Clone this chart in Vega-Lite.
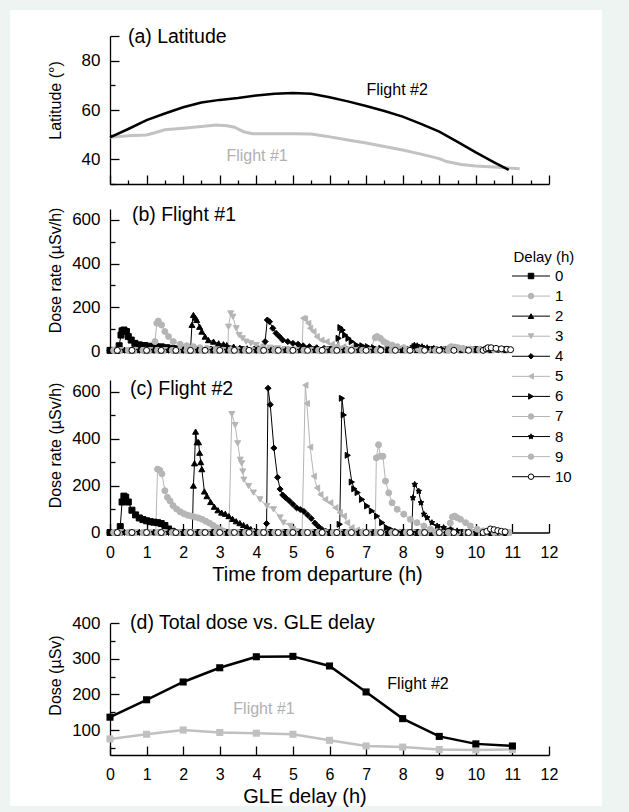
{
"$schema":"https://vega.github.io/schema/vega-lite/v6.json",
"width":592,"height":796,"autosize":"none",
"padding":{"left":10,"top":10,"right":27,"bottom":6},
"background":"#eef4f1",
"config":{
 "font":"Liberation Sans",
 "view":{"fill":"#ffffff","stroke":null},
 "axis":{"grid":false,"domainColor":"#000","domainWidth":1.3,"tickColor":"#000","tickWidth":1.3,"labelColor":"#000","titleColor":"#000","labelFont":"Liberation Sans","titleFont":"Liberation Sans","labelFontSize":16,"titleFontSize":20,"titleFontWeight":"normal","labelFlush":false,"labelOverlap":false,"labelBound":false},
 "axisY":{"labelFontSize":17,"titleFontSize":16}
},
"layer":[
{
 "data":{"values":"f,t,v\n2,0,48.9\n2,0.5,52.3\n2,1,55.9\n2,1.5,58.6\n2,2,61.1\n2,2.5,63\n2,3,64.1\n2,3.5,64.9\n2,4,65.9\n2,4.5,66.6\n2,5,66.9\n2,5.5,66.6\n2,6,65.2\n2,6.5,63.5\n2,7,61.6\n2,7.5,59.6\n2,8,57.3\n2,8.5,54.4\n2,9,51.2\n2,9.5,47.1\n2,10,42.8\n2,10.5,38.8\n2,10.9,35.7\n1,0,48.9\n1,0.5,49.6\n1,1,49.9\n1,1.2,50.7\n1,1.5,52\n1,2,52.6\n1,2.5,53.3\n1,2.9,53.9\n1,3.2,53.6\n1,3.4,53\n1,3.65,51.2\n1,3.9,50.4\n1,4.5,50.4\n1,5,50.4\n1,5.5,50.3\n1,5.9,49.4\n1,6.5,47.8\n1,7,46.6\n1,7.5,45.2\n1,8,43.8\n1,8.5,42.1\n1,9,40.3\n1,9.2,39.1\n1,9.6,37.9\n1,10,37.3\n1,10.5,36.9\n1,11.2,36.2","format":{"type":"csv","parse":{"f":"number","t":"number","v":"number"}}},
 "encoding":{
  "x":{"field":"t","type":"quantitative","scale":{"domain":[0,12],"range":[100,539],"nice":false,"zero":false},
   "axis":{"orient":"bottom","offset":-622,"values":[0,0.5,1,1.5,2,2.5,3,3.5,4,4.5,5,5.5,6,6.5,7,7.5,8,8.5,9,9.5,10,10.5,11,11.5,12],"labels":false,"title":null,"tickSize":{"condition":{"test":"datum.value % 1 === 0","value":-9},"value":-4}}},
  "y":{"field":"v","type":"quantitative","scale":{"domain":[30,90],"range":[174,26],"nice":false,"zero":false},
   "axis":{"orient":"left","offset":-100,"values":[30,40,50,60,70,80,90],"format":"d","labelExpr":"datum.value===40||datum.value===60||datum.value===80 ? datum.label : ''","tickSize":{"condition":{"test":"datum.value===40||datum.value===60||datum.value===80||datum.value===90","value":-9},"value":-5},"labelPadding":19,"title":"Latitude (°)","titleX":-47,"titleY":90}}
 },
 "layer":[
  {"transform":[{"filter":"datum.f===1"}],"mark":{"type":"line","stroke":"#c2c2c2","strokeWidth":3}},
  {"transform":[{"filter":"datum.f===2"}],"mark":{"type":"line","stroke":"#000000","strokeWidth":2.5}},
  {"data":{"values":[{"t":0.49,"v":89.6,"s":"(a) Latitude"}]},"mark":{"type":"text","align":"left","baseline":"middle","fontSize":19.5,"color":"#000000"},"encoding":{"text":{"field":"s"}}},
  {"data":{"values":[{"t":7.85,"v":68.2,"s":"Flight #2"}]},"mark":{"type":"text","align":"center","baseline":"middle","fontSize":16,"color":"#000000"},"encoding":{"text":{"field":"s"}}},
  {"data":{"values":[{"t":4.02,"v":41.5,"s":"Flight #1"}]},"mark":{"type":"text","align":"center","baseline":"middle","fontSize":16,"color":"#b0b0b0"},"encoding":{"text":{"field":"s"}}}
 ]
},
{
 "data":{"values":"d,t,v\n0,0,3\n0,0.2,3\n0,0.25,24\n0,0.3,73\n0,0.33,92\n0,0.38,96\n0,0.45,89\n0,0.5,66\n0,0.58,50\n0,0.68,35\n0,0.8,28\n0,0.95,25\n0,1.1,22\n0,1.25,20\n0,1.4,19\n0,1.55,15\n0,1.7,12\n0,1.85,10\n0,2,6\n0,2.4,6\n0,2.8,6\n0,3.2,6\n0,3.6,6\n0,4,6\n0,4.4,6\n0,4.8,6\n0,5.2,6\n0,5.6,6\n0,6,6\n0,6.4,6\n0,6.8,6\n0,7.2,6\n0,7.6,6\n0,8,6\n0,8.4,6\n0,8.8,6\n0,9.2,6\n0,9.6,6\n0,10,6\n0,10.4,6\n0,10.8,6\n1,0.1,3\n1,0.5,3\n1,0.9,3\n1,1.2,3\n1,1.23,43\n1,1.28,127\n1,1.32,137\n1,1.41,119\n1,1.5,89\n1,1.6,66\n1,1.73,43\n1,1.92,31\n1,2.1,24\n1,2.28,20\n1,2.46,15\n1,2.65,12\n1,2.85,9\n1,3.3,6\n1,3.7,6\n1,4.1,6\n1,4.5,6\n1,4.9,6\n1,5.3,6\n1,5.7,6\n1,6.1,6\n1,6.5,6\n1,6.9,6\n1,7.3,6\n1,7.7,6\n1,8.1,6\n1,8.5,6\n1,8.9,6\n1,9.3,6\n1,9.7,6\n1,10.1,6\n1,10.5,6\n1,10.9,6\n2,0.2,3\n2,0.6,3\n2,1,3\n2,1.4,3\n2,1.8,3\n2,2.2,3\n2,2.24,120\n2,2.28,165\n2,2.33,153\n2,2.37,142\n2,2.45,111\n2,2.51,89\n2,2.6,66\n2,2.69,50\n2,2.83,43\n2,2.97,35\n2,3.1,31\n2,3.19,27\n2,3.38,20\n2,3.55,15\n2,3.75,12\n2,3.95,9\n2,4.2,6\n2,4.6,6\n2,5,6\n2,5.4,6\n2,5.8,6\n2,6.2,6\n2,6.6,6\n2,7,6\n2,7.4,6\n2,7.8,6\n2,8.2,6\n2,8.6,6\n2,9,6\n2,9.4,6\n2,9.8,6\n2,10.2,6\n2,10.6,6\n3,0.3,3\n3,0.7,3\n3,1.1,3\n3,1.5,3\n3,1.9,3\n3,2.3,3\n3,2.7,3\n3,3.1,3\n3,3.22,3\n3,3.24,111\n3,3.3,172\n3,3.36,157\n3,3.45,104\n3,3.53,73\n3,3.62,58\n3,3.72,43\n3,3.85,35\n3,4,27\n3,4.2,20\n3,4.38,15\n3,4.58,12\n3,4.8,9\n3,5.1,6\n3,5.5,6\n3,5.9,6\n3,6.3,6\n3,6.7,6\n3,7.1,6\n3,7.5,6\n3,7.9,6\n3,8.3,6\n3,8.7,6\n3,9.1,6\n3,9.5,6\n3,9.9,6\n3,10.3,6\n3,10.7,6\n4,0,3\n4,0.4,3\n4,0.8,3\n4,1.2,3\n4,1.6,3\n4,2,3\n4,2.4,3\n4,2.8,3\n4,3.2,3\n4,3.6,3\n4,4,3\n4,4.2,3\n4,4.24,43\n4,4.3,142\n4,4.36,134\n4,4.45,104\n4,4.54,81\n4,4.63,66\n4,4.72,50\n4,4.86,43\n4,5,35\n4,5.14,31\n4,5.28,24\n4,5.45,20\n4,5.65,15\n4,5.85,12\n4,6.05,9\n4,6.4,6\n4,6.8,6\n4,7.2,6\n4,7.6,6\n4,8,6\n4,8.4,6\n4,8.8,6\n4,9.2,6\n4,9.6,6\n4,10,6\n4,10.4,6\n4,10.8,6\n5,0.1,3\n5,0.5,3\n5,0.9,3\n5,1.3,3\n5,1.7,3\n5,2.1,3\n5,2.5,3\n5,2.9,3\n5,3.3,3\n5,3.7,3\n5,4.1,3\n5,4.5,3\n5,4.9,3\n5,5.25,3\n5,5.28,150\n5,5.33,147\n5,5.42,127\n5,5.47,104\n5,5.56,89\n5,5.65,66\n5,5.78,50\n5,5.92,43\n5,6.06,31\n5,6.2,24\n5,6.38,20\n5,6.58,15\n5,6.78,12\n5,6.98,9\n5,7.3,6\n5,7.7,6\n5,8.1,6\n5,8.5,6\n5,8.9,6\n5,9.3,6\n5,9.7,6\n5,10.1,6\n5,10.5,6\n5,10.9,6\n6,0.2,3\n6,0.6,3\n6,1,3\n6,1.4,3\n6,1.8,3\n6,2.2,3\n6,2.6,3\n6,3,3\n6,3.4,3\n6,3.8,3\n6,4.2,3\n6,4.6,3\n6,5,3\n6,5.4,3\n6,5.8,3\n6,6.2,3\n6,6.25,58\n6,6.3,107\n6,6.36,96\n6,6.43,73\n6,6.52,58\n6,6.61,43\n6,6.75,27\n6,6.9,24\n6,7.05,20\n6,7.22,15\n6,7.42,12\n6,7.62,9\n6,7.8,6\n6,8.2,6\n6,8.6,6\n6,9,6\n6,9.4,6\n6,9.8,6\n6,10.2,6\n6,10.6,6\n7,0.3,3\n7,0.7,3\n7,1.1,3\n7,1.5,3\n7,1.9,3\n7,2.3,3\n7,2.7,3\n7,3.1,3\n7,3.5,3\n7,3.9,3\n7,4.3,3\n7,4.7,3\n7,5.1,3\n7,5.5,3\n7,5.9,3\n7,6.3,3\n7,6.7,3\n7,7.1,3\n7,7.25,61\n7,7.3,66\n7,7.39,58\n7,7.48,43\n7,7.57,35\n7,7.71,27\n7,7.85,20\n7,8.03,15\n7,8.23,12\n7,8.43,9\n7,8.7,6\n7,9.1,6\n7,9.5,6\n7,9.9,6\n7,10.3,6\n7,10.7,6\n8,0,3\n8,0.4,3\n8,0.8,3\n8,1.2,3\n8,1.6,3\n8,2,3\n8,2.4,3\n8,2.8,3\n8,3.2,3\n8,3.6,3\n8,4,3\n8,4.4,3\n8,4.8,3\n8,5.2,3\n8,5.6,3\n8,6,3\n8,6.4,3\n8,6.8,3\n8,7.2,3\n8,7.6,3\n8,8,3\n8,8.28,20\n8,8.32,27\n8,8.4,24\n8,8.53,20\n8,8.67,15\n8,8.85,12\n8,9.05,9\n8,9.2,6\n8,9.6,6\n8,10,6\n8,10.4,6\n8,10.8,6\n9,0.1,3\n9,0.5,3\n9,0.9,3\n9,1.3,3\n9,1.7,3\n9,2.1,3\n9,2.5,3\n9,2.9,3\n9,3.3,3\n9,3.7,3\n9,4.1,3\n9,4.5,3\n9,4.9,3\n9,5.3,3\n9,5.7,3\n9,6.1,3\n9,6.5,3\n9,6.9,3\n9,7.3,3\n9,7.7,3\n9,8.1,3\n9,8.5,3\n9,8.9,3\n9,9.25,3\n9,9.28,15\n9,9.33,20\n9,9.42,18\n9,9.52,15\n9,9.65,12\n9,9.85,9\n9,10.1,6\n9,10.5,6\n9,10.9,6\n10,0.2,3\n10,0.6,3\n10,1,3\n10,1.4,3\n10,1.8,3\n10,2.2,3\n10,2.6,3\n10,3,3\n10,3.4,3\n10,3.8,3\n10,4.2,3\n10,4.6,3\n10,5,3\n10,5.4,3\n10,5.8,3\n10,6.2,3\n10,6.6,3\n10,7,3\n10,7.4,3\n10,7.8,3\n10,8.2,3\n10,8.6,3\n10,9,3\n10,9.4,3\n10,9.8,3\n10,10.2,3\n10,10.28,10\n10,10.33,15\n10,10.42,15\n10,10.55,12\n10,10.7,10\n10,10.85,8\n10,10.95,6","format":{"type":"csv","parse":{"d":"number","t":"number","v":"number"}}},
 "encoding":{
  "x":{"field":"t","type":"quantitative","scale":{"domain":[0,12],"range":[100,539],"nice":false,"zero":false},"axis":null},
  "y":{"field":"v","type":"quantitative","scale":{"domain":[0,650],"range":[341,199],"nice":false,"zero":false},
   "axis":{"orient":"left","offset":-100,"values":[0,100,200,300,400,500,600],"format":"d","labelExpr":"datum.value % 200 === 0 ? datum.label : ''","tickSize":{"condition":{"test":"datum.value % 200 === 0","value":-9},"value":-5},"labelPadding":19,"title":"Dose rate (µSv/h)","titleX":-47,"titleY":260}}
 },
 "layer":[
  {"mark":{"type":"line","strokeWidth":1},"encoding":{"stroke":{"field":"d","type":"nominal","scale":{"domain":[0,1,2,3,4,5,6,7,8,9,10],"range":["#000000","#b5b5b5","#000000","#b5b5b5","#000000","#b5b5b5","#000000","#b5b5b5","#000000","#b5b5b5","#000000"]},"legend":null}}},
  {"mark":{"type":"point","filled":true,"size":36,"strokeWidth":1,"opacity":1},"encoding":{
    "shape":{"field":"d","type":"nominal","scale":{"domain":[0,1,2,3,4,5,6,7,8,9,10],"range":["square","circle","triangle-up","triangle-down","diamond","triangle-left","triangle-right","circle","M0,-1L0.29,-0.4L0.95,-0.31L0.48,0.15L0.59,0.81L0,0.5L-0.59,0.81L-0.48,0.15L-0.95,-0.31L-0.29,-0.4Z","circle","circle"]},"legend":null},
    "fill":{"field":"d","type":"nominal","scale":{"domain":[0,1,2,3,4,5,6,7,8,9,10],"range":["#000000","#b5b5b5","#000000","#b5b5b5","#000000","#b5b5b5","#000000","#b5b5b5","#000000","#b5b5b5","#ffffff"]},"legend":null},
    "stroke":{"field":"d","type":"nominal","legend":null}
  }},
  {"data":{"values":[{"t":0.6,"v":623,"s":"(b) Flight #1"}]},"mark":{"type":"text","align":"left","baseline":"middle","fontSize":19.5,"color":"#000000"},"encoding":{"text":{"field":"s"}}}
 ]
},
{
 "data":{"values":"d,t,v\n0,0,0\n0,0.2,0\n0,0.25,0\n0,0.28,25\n0,0.33,130\n0,0.38,155\n0,0.43,150\n0,0.5,130\n0,0.6,95\n0,0.7,75\n0,0.8,62\n0,0.9,55\n0,1,50\n0,1.1,46\n0,1.2,44\n0,1.3,42\n0,1.4,38\n0,1.5,30\n0,1.6,15\n0,1.7,5\n0,2,0\n0,2.4,0\n0,2.8,0\n0,3.2,0\n0,3.6,0\n0,4,0\n0,4.4,0\n0,4.8,0\n0,5.2,0\n0,5.6,0\n0,6,0\n0,6.4,0\n0,6.8,0\n0,7.2,0\n0,7.6,0\n0,8,0\n0,8.4,0\n0,8.8,0\n0,9.2,0\n0,9.6,0\n0,10,0\n0,10.4,0\n0,10.8,0\n1,0.1,0\n1,0.5,0\n1,0.9,0\n1,1.25,0\n1,1.3,270\n1,1.36,265\n1,1.42,250\n1,1.5,178\n1,1.57,150\n1,1.64,135\n1,1.72,115\n1,1.82,100\n1,1.92,88\n1,2.02,80\n1,2.12,74\n1,2.22,70\n1,2.32,66\n1,2.42,62\n1,2.52,56\n1,2.62,48\n1,2.72,40\n1,2.82,30\n1,2.92,20\n1,3.02,12\n1,3.12,5\n1,3.3,0\n1,3.7,0\n1,4.1,0\n1,4.5,0\n1,4.9,0\n1,5.3,0\n1,5.7,0\n1,6.1,0\n1,6.5,0\n1,6.9,0\n1,7.3,0\n1,7.7,0\n1,8.1,0\n1,8.5,0\n1,8.9,0\n1,9.3,0\n1,9.7,0\n1,10.1,0\n1,10.5,0\n1,10.9,0\n2,0.2,0\n2,0.6,0\n2,1,0\n2,1.4,0\n2,1.8,0\n2,2.2,0\n2,2.25,0\n2,2.28,200\n2,2.31,295\n2,2.34,430\n2,2.38,385\n2,2.42,385\n2,2.45,340\n2,2.48,300\n2,2.51,270\n2,2.58,175\n2,2.65,155\n2,2.75,130\n2,2.85,110\n2,2.95,95\n2,3.05,85\n2,3.15,80\n2,3.25,70\n2,3.35,58\n2,3.45,48\n2,3.55,40\n2,3.65,32\n2,3.75,25\n2,3.85,15\n2,3.95,8\n2,4.05,3\n2,4.2,0\n2,4.6,0\n2,5,0\n2,5.4,0\n2,5.8,0\n2,6.2,0\n2,6.6,0\n2,7,0\n2,7.4,0\n2,7.8,0\n2,8.2,0\n2,8.6,0\n2,9,0\n2,9.4,0\n2,9.8,0\n2,10.2,0\n2,10.6,0\n3,0.3,0\n3,0.7,0\n3,1.1,0\n3,1.5,0\n3,1.9,0\n3,2.3,0\n3,2.7,0\n3,3.1,0\n3,3.25,0\n3,3.33,505\n3,3.42,458\n3,3.49,380\n3,3.56,310\n3,3.6,295\n3,3.63,260\n3,3.66,225\n3,3.79,198\n3,3.92,170\n3,4.1,141\n3,4.29,113\n3,4.47,99\n3,4.65,64\n3,4.74,42\n3,4.93,28\n3,5,14\n3,5.1,5\n3,5.5,0\n3,5.9,0\n3,6.3,0\n3,6.7,0\n3,7.1,0\n3,7.5,0\n3,7.9,0\n3,8.3,0\n3,8.7,0\n3,9.1,0\n3,9.5,0\n3,9.9,0\n3,10.3,0\n3,10.7,0\n4,0,0\n4,0.4,0\n4,0.8,0\n4,1.2,0\n4,1.6,0\n4,2,0\n4,2.4,0\n4,2.8,0\n4,3.2,0\n4,3.6,0\n4,4,0\n4,4.25,0\n4,4.28,38\n4,4.32,615\n4,4.38,545\n4,4.48,360\n4,4.58,235\n4,4.65,185\n4,4.72,160\n4,4.8,148\n4,4.9,135\n4,5,120\n4,5.1,105\n4,5.2,98\n4,5.3,90\n4,5.4,75\n4,5.5,60\n4,5.6,40\n4,5.7,25\n4,5.8,12\n4,5.9,5\n4,6.4,0\n4,6.8,0\n4,7.2,0\n4,7.6,0\n4,8,0\n4,8.4,0\n4,8.8,0\n4,9.2,0\n4,9.6,0\n4,10,0\n4,10.4,0\n4,10.8,0\n5,0.1,0\n5,0.5,0\n5,0.9,0\n5,1.3,0\n5,1.7,0\n5,2.1,0\n5,2.5,0\n5,2.9,0\n5,3.3,0\n5,3.7,0\n5,4.1,0\n5,4.5,0\n5,4.9,0\n5,5.25,0\n5,5.34,628\n5,5.38,550\n5,5.47,364\n5,5.57,240\n5,5.66,190\n5,5.75,162\n5,5.88,141\n5,6.02,127\n5,6.16,106\n5,6.28,85\n5,6.39,70\n5,6.48,42\n5,6.6,21\n5,6.75,11\n5,6.85,4\n5,7.3,0\n5,7.7,0\n5,8.1,0\n5,8.5,0\n5,8.9,0\n5,9.3,0\n5,9.7,0\n5,10.1,0\n5,10.5,0\n5,10.9,0\n6,0.2,0\n6,0.6,0\n6,1,0\n6,1.4,0\n6,1.8,0\n6,2.2,0\n6,2.6,0\n6,3,0\n6,3.4,0\n6,3.8,0\n6,4.2,0\n6,4.6,0\n6,5,0\n6,5.4,0\n6,5.8,0\n6,6.2,0\n6,6.25,0\n6,6.28,35\n6,6.34,572\n6,6.39,501\n6,6.5,329\n6,6.61,215\n6,6.68,186\n6,6.77,170\n6,6.89,141\n6,7.03,113\n6,7.16,92\n6,7.3,70\n6,7.44,42\n6,7.57,21\n6,7.71,11\n6,7.85,4\n6,8.2,0\n6,8.6,0\n6,9,0\n6,9.4,0\n6,9.8,0\n6,10.2,0\n6,10.6,0\n7,0.3,0\n7,0.7,0\n7,1.1,0\n7,1.5,0\n7,1.9,0\n7,2.3,0\n7,2.7,0\n7,3.1,0\n7,3.5,0\n7,3.9,0\n7,4.3,0\n7,4.7,0\n7,5.1,0\n7,5.5,0\n7,5.9,0\n7,6.3,0\n7,6.7,0\n7,7.1,0\n7,7.25,0\n7,7.28,318\n7,7.34,374\n7,7.39,325\n7,7.46,325\n7,7.53,219\n7,7.62,169\n7,7.71,127\n7,7.85,99\n7,8.03,78\n7,8.21,56\n7,8.39,42\n7,8.58,28\n7,8.76,14\n7,8.94,7\n7,9.5,0\n7,9.9,0\n7,10.3,0\n7,10.7,0\n8,0,0\n8,0.4,0\n8,0.8,0\n8,1.2,0\n8,1.6,0\n8,2,0\n8,2.4,0\n8,2.8,0\n8,3.2,0\n8,3.6,0\n8,4,0\n8,4.4,0\n8,4.8,0\n8,5.2,0\n8,5.6,0\n8,6,0\n8,6.4,0\n8,6.8,0\n8,7.2,0\n8,7.6,0\n8,8,0\n8,8.25,0\n8,8.28,148\n8,8.33,205\n8,8.44,176\n8,8.5,127\n8,8.58,78\n8,8.67,63\n8,8.8,42\n8,8.94,28\n8,9.12,21\n8,9.31,14\n8,9.49,7\n8,10,0\n8,10.4,0\n8,10.8,0\n9,0.1,0\n9,0.5,0\n9,0.9,0\n9,1.3,0\n9,1.7,0\n9,2.1,0\n9,2.5,0\n9,2.9,0\n9,3.3,0\n9,3.7,0\n9,4.1,0\n9,4.5,0\n9,4.9,0\n9,5.3,0\n9,5.7,0\n9,6.1,0\n9,6.5,0\n9,6.9,0\n9,7.3,0\n9,7.7,0\n9,8.1,0\n9,8.5,0\n9,8.9,0\n9,9.25,0\n9,9.3,40\n9,9.36,66\n9,9.42,70\n9,9.49,63\n9,9.58,56\n9,9.72,42\n9,9.85,28\n9,10.04,14\n9,10.2,7\n9,10.5,0\n9,10.9,0\n10,0.2,0\n10,0.6,0\n10,1,0\n10,1.4,0\n10,1.8,0\n10,2.2,0\n10,2.6,0\n10,3,0\n10,3.4,0\n10,3.8,0\n10,4.2,0\n10,4.6,0\n10,5,0\n10,5.4,0\n10,5.8,0\n10,6.2,0\n10,6.6,0\n10,7,0\n10,7.4,0\n10,7.8,0\n10,8.2,0\n10,8.6,0\n10,9,0\n10,9.4,0\n10,9.8,0\n10,10.2,0\n10,10.3,5\n10,10.4,15\n10,10.5,12\n10,10.6,8\n10,10.7,5\n10,10.8,3","format":{"type":"csv","parse":{"d":"number","t":"number","v":"number"}}},
 "encoding":{
  "x":{"field":"t","type":"quantitative","scale":{"domain":[0,12],"range":[100,539],"nice":false,"zero":false},
   "axis":{"orient":"bottom","offset":-273.5,"values":[0,0.5,1,1.5,2,2.5,3,3.5,4,4.5,5,5.5,6,6.5,7,7.5,8,8.5,9,9.5,10,10.5,11,11.5,12],"format":"d","labelExpr":"datum.value % 1 === 0 ? datum.label : ''","labelBaseline":"middle","labelPadding":28.5,"tickSize":{"condition":{"test":"datum.value % 1 === 0","value":-9},"value":-4},"title":"Time from departure (h)","titleBaseline":"middle","titleX":307,"titleY":41.5}},
  "y":{"field":"v","type":"quantitative","scale":{"domain":[0,650],"range":[522.5,370],"nice":false,"zero":false},
   "axis":{"orient":"left","offset":-100,"values":[0,100,200,300,400,500,600],"format":"d","labelExpr":"datum.value % 200 === 0 ? datum.label : ''","tickSize":{"condition":{"test":"datum.value % 200 === 0","value":-9},"value":-5},"labelPadding":19,"title":"Dose rate (µSv/h)","titleX":-47,"titleY":435}}
 },
 "layer":[
  {"mark":{"type":"line","strokeWidth":1},"encoding":{"stroke":{"field":"d","type":"nominal","legend":null}}},
  {"mark":{"type":"point","filled":true,"size":36,"strokeWidth":1,"opacity":1},"encoding":{
    "shape":{"field":"d","type":"nominal","legend":null},
    "fill":{"field":"d","type":"nominal","legend":null},
    "stroke":{"field":"d","type":"nominal","legend":null}
  }},
  {"data":{"values":[{"t":0.55,"v":612,"s":"(c) Flight #2"}]},"mark":{"type":"text","align":"left","baseline":"middle","fontSize":19.5,"color":"#000000"},"encoding":{"text":{"field":"s"}}}
 ]
},
{
 "data":{"values":"f,d,v\n2,0,136\n2,1,185\n2,2,235\n2,3,275\n2,4,306\n2,5,307\n2,6,280\n2,7,207\n2,8,132\n2,9,82\n2,10,61\n2,11,55\n1,0,75\n1,1,88\n1,2,100\n1,3,93\n1,4,91\n1,5,88\n1,6,71\n1,7,55\n1,8,52\n1,9,45\n1,10,44\n1,11,45","format":{"type":"csv","parse":{"f":"number","d":"number","v":"number"}}},
 "encoding":{
  "x":{"field":"d","type":"quantitative","scale":{"domain":[0,12],"range":[100,539],"nice":false,"zero":false},
   "axis":{"orient":"bottom","offset":-51,"values":[0,0.5,1,1.5,2,2.5,3,3.5,4,4.5,5,5.5,6,6.5,7,7.5,8,8.5,9,9.5,10,10.5,11,11.5,12],"format":"d","labelExpr":"datum.value % 1 === 0 ? datum.label : ''","labelBaseline":"middle","labelPadding":28.5,"tickSize":{"condition":{"test":"datum.value % 1 === 0","value":-9},"value":-4},"title":"GLE delay (h)","titleBaseline":"middle","titleX":294.5,"titleY":41.5}},
  "y":{"field":"v","type":"quantitative","scale":{"domain":[30,400],"range":[744.9,613.3],"nice":false,"zero":false},
   "axis":{"orient":"left","offset":-100,"values":[50,100,150,200,250,300,350,400],"format":"d","labelExpr":"datum.value % 100 === 0 ? datum.label : ''","tickSize":{"condition":{"test":"datum.value % 100 === 0","value":-9},"value":-5},"labelPadding":19,"title":"Dose (µSv)","titleX":-47,"titleY":665}}
 },
 "layer":[
  {"transform":[{"filter":"datum.f===1"}],"mark":{"type":"line","color":"#c0c0c0","strokeWidth":2.5,"point":{"filled":true,"shape":"square","size":50,"color":"#c0c0c0"}}},
  {"transform":[{"filter":"datum.f===2"}],"mark":{"type":"line","color":"#000000","strokeWidth":2.5,"point":{"filled":true,"shape":"square","size":50,"color":"#000000"}}},
  {"data":{"values":[{"d":0.55,"v":401,"s":"(d) Total dose vs. GLE delay"}]},"mark":{"type":"text","align":"left","baseline":"middle","fontSize":19.5,"color":"#000000"},"encoding":{"text":{"field":"s"}}},
  {"data":{"values":[{"d":8.42,"v":229,"s":"Flight #2"}]},"mark":{"type":"text","align":"center","baseline":"middle","fontSize":16,"color":"#000000"},"encoding":{"text":{"field":"s"}}},
  {"data":{"values":[{"d":4.21,"v":159,"s":"Flight #1"}]},"mark":{"type":"text","align":"center","baseline":"middle","fontSize":16,"color":"#b0b0b0"},"encoding":{"text":{"field":"s"}}}
 ]
},
{
 "data":{"values":[{"d":0},{"d":1},{"d":2},{"d":3},{"d":4},{"d":5},{"d":6},{"d":7},{"d":8},{"d":9},{"d":10}]},
 "encoding":{
  "y":{"field":"d","type":"quantitative","scale":{"domain":[0,10],"range":[266,466.7],"nice":false,"zero":false},"axis":null}
 },
 "layer":[
  {"mark":{"type":"rule","strokeWidth":1},"encoding":{
    "x":{"datum":0,"type":"quantitative","scale":{"domain":[0,1],"range":[502,540],"nice":false,"zero":false},
     "axis":{"orient":"top","offset":0,"domain":false,"ticks":false,"labels":false,"title":"Delay (h)","titleFontSize":15,"titleAlign":"left","titleBaseline":"middle","titleAngle":0,"titleX":503,"titleY":246}},
    "x2":{"datum":1},
    "stroke":{"field":"d","type":"nominal","legend":null}}},
  {"mark":{"type":"point","filled":true,"size":30,"strokeWidth":1,"opacity":1},"encoding":{
    "x":{"datum":0.5,"type":"quantitative"},
    "shape":{"field":"d","type":"nominal","legend":null},
    "fill":{"field":"d","type":"nominal","legend":null},
    "stroke":{"field":"d","type":"nominal","legend":null}}},
  {"mark":{"type":"text","align":"left","baseline":"middle","dx":5,"fontSize":15,"color":"#000000"},"encoding":{
    "x":{"datum":1,"type":"quantitative"},
    "text":{"field":"d","type":"nominal"}}}
 ]
}
],
"resolve":{"scale":{"x":"independent","y":"independent"}}
}
